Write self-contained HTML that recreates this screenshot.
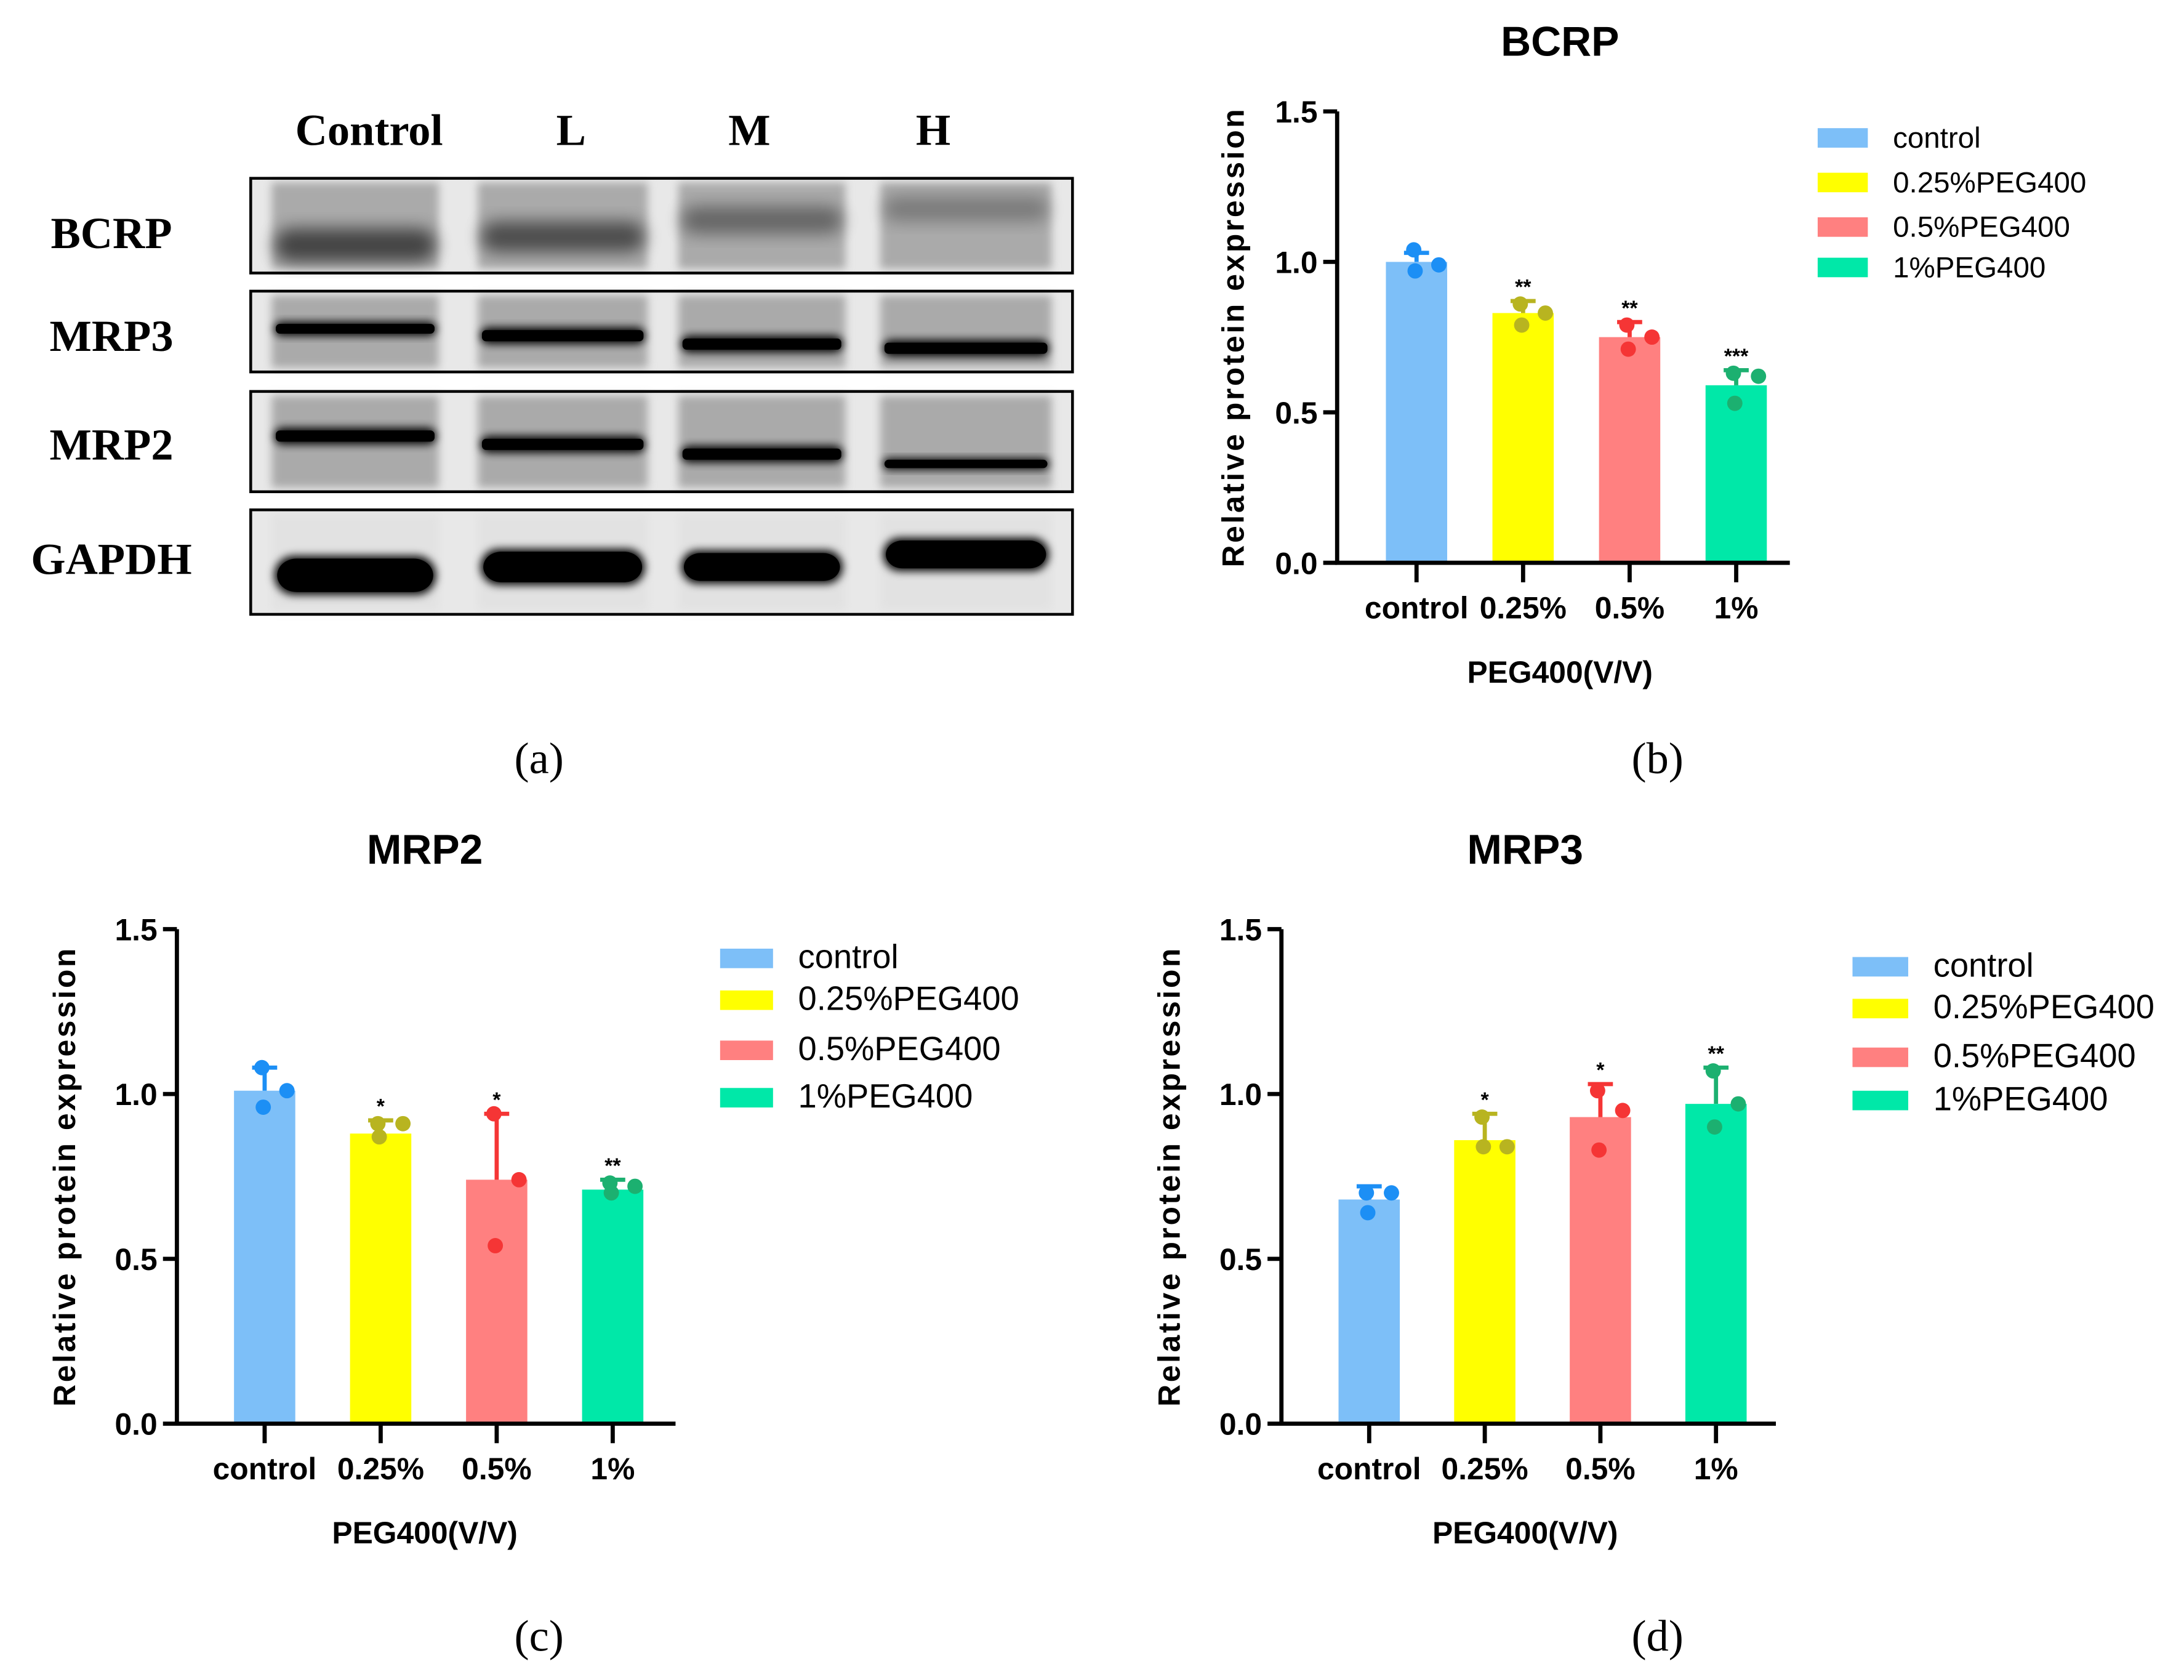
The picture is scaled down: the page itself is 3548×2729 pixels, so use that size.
<!DOCTYPE html>
<html><head><meta charset="utf-8"><style>
html,body{margin:0;padding:0;background:#fff}
svg{display:block}
.t{font-family:"Liberation Serif",serif;font-weight:bold}
.s{font-family:"Liberation Sans",sans-serif}
</style></head><body>
<svg id="fig" width="3548" height="2729" viewBox="0 0 1568 1206" preserveAspectRatio="none" xmlns="http://www.w3.org/2000/svg">
<defs>
<filter id="bl" x="-20%" y="-50%" width="140%" height="200%"><feGaussianBlur stdDeviation="3"/></filter>
<filter id="bl2" x="-20%" y="-50%" width="140%" height="200%"><feGaussianBlur stdDeviation="6"/></filter>
</defs>
<g id="blot"></g>
<g id="charts"></g>
<text class="t" x="387" y="555" font-size="32" style="font-weight:normal" text-anchor="middle">(a)</text>
<text class="t" x="1190" y="555" font-size="32" style="font-weight:normal" text-anchor="middle">(b)</text>
<text class="t" x="387" y="1185" font-size="32" style="font-weight:normal" text-anchor="middle">(c)</text>
<text class="t" x="1190" y="1185" font-size="32" style="font-weight:normal" text-anchor="middle">(d)</text>
</svg>
<script>
const categories = ["control","0.25%","0.5%","1%"];
const legendLabels = ["control","0.25%PEG400","0.5%PEG400","1%PEG400"];
const yTicks = [0.0,0.5,1.0,1.5];
const yTickLabels = ["0.0","0.5","1.0","1.5"];
const bcrpMeans = [1.00,0.83,0.75,0.59];
const bcrpErrTop = [1.03,0.87,0.80,0.64];
const bcrpPoints = [[1.04,0.99,0.97],[0.86,0.83,0.79],[0.79,0.75,0.71],[0.63,0.62,0.53]];
const bcrpStars = ["","**","**","***"];
const mrp2Means = [1.01,0.88,0.74,0.71];
const mrp2ErrTop = [1.08,0.92,0.94,0.74];
const mrp2Points = [[1.08,1.01,0.96],[0.91,0.91,0.87],[0.94,0.74,0.54],[0.73,0.72,0.70]];
const mrp2Stars = ["","*","*","**"];
const mrp3Means = [0.68,0.86,0.93,0.97];
const mrp3ErrTop = [0.72,0.94,1.03,1.08];
const mrp3Points = [[0.70,0.70,0.64],[0.93,0.84,0.84],[1.01,0.95,0.83],[1.07,0.97,0.90]];
const mrp3Stars = ["","*","*","**"];
const blotRows = ["BCRP","MRP3","MRP2","GAPDH"];
const blotCols = ["Control","L","M","H"];

const NS="http://www.w3.org/2000/svg";
const barFill=["#7dbff8","#ffff00","#ff8080","#00e8a8"];
const ptFill=["#1c8ff5","#b8b420","#f53535","#1cb070"];
function mk(tag,attrs,parent,text){const e=document.createElementNS(NS,tag);for(const k in attrs)e.setAttribute(k,attrs[k]);if(text!==undefined)e.textContent=text;parent.appendChild(e);return e;}

function drawChart(c){
  const g=mk("g",{},document.getElementById("charts"));
  
  
  const y=v=>c.y0-(v/1.5)*(c.y0-c.y15);
  const x=i=>c.xs+i*c.dx;
  const t=mk("text",{x:c.tx,y:c.ty,"font-size":30,"font-weight":"bold","text-anchor":"middle",class:"s"},g,c.title);
  
  
  for(let i=0;i<categories.length;i++){
    const bw=44, cx=x(i);
    const b=mk("rect",{x:cx-bw/2,y:y(c.means[i]),width:bw,height:y(0)-y(c.means[i]),fill:barFill[i]},g);
    
    
    const e=mk("path",{d:`M${cx} ${y(c.means[i])}V${y(c.err[i])}M${cx-9} ${y(c.err[i])}H${cx+9}`,stroke:ptFill[i],"stroke-width":3,fill:"none"},g);
    
    
    c.pts[i].forEach((v,j)=>{
      const p=mk("circle",{cx:cx+(j===0?-2:j===1?16:-1),cy:y(v),r:5.5,fill:ptFill[i]},g);
      
      
    });
    if(c.stars[i]){
      const s=mk("text",{x:cx,y:y(c.err[i])-5,"font-size":15,"font-weight":"bold","text-anchor":"middle",class:"s"},g,c.stars[i]);
      
      
    }
    const tk=mk("path",{d:`M${cx} ${y(0)}V${y(0)+14}`,stroke:"#000","stroke-width":3},g);
    
    
    const tl=mk("text",{x:cx,y:c.y0+40,"font-size":22,"font-weight":"bold","text-anchor":"middle",class:"s"},g,categories[i]);
    
    
  }
  const ax=mk("path",{d:`M${c.ax} ${c.y15}V${c.y0}H${c.axEnd}`,stroke:"#000","stroke-width":3,fill:"none"},g);
  
  
  yTicks.forEach((v,i)=>{
    const tk=mk("path",{d:`M${c.ax-10} ${y(v)}H${c.ax}`,stroke:"#000","stroke-width":3},g);
    
    
    const tl=mk("text",{x:c.ax-14,y:y(v)+8,"font-size":22,"font-weight":"bold","text-anchor":"end",class:"s"},g,yTickLabels[i]);
    
    
  });
  const yl=mk("text",{x:0,y:0,"font-size":22,"font-weight":"bold","text-anchor":"middle",class:"s",transform:`translate(${c.ylx},${(c.y0+c.y15)/2}) rotate(-90)`,"letter-spacing":"1.6"},g,"Relative protein expression");
  
  
  const xl=mk("text",{x:c.tx,y:c.y0+86,"font-size":22,"font-weight":"bold","text-anchor":"middle",class:"s"},g,"PEG400(V/V)");
  
  
  c.leg.forEach((ly,i)=>{
    const le=mk("g",{},g);
    
    
    mk("rect",{x:c.lx,y:ly-7,width:c.lw,height:14,fill:barFill[i]},le);
    mk("text",{x:c.lx+c.lw+18,y:ly+7,"font-size":c.lfs,class:"s"},le,legendLabels[i]);
  });
}
drawChart({name:"bcrp",title:"BCRP",tx:1120,ty:40,means:bcrpMeans,err:bcrpErrTop,pts:bcrpPoints,stars:bcrpStars,
  ax:960,axEnd:1285,y0:404,y15:80,xs:1017,dx:76.5,ylx:893,leg:[99,131,163,192],lx:1305,lw:36,lfs:21});
drawChart({name:"mrp2",title:"MRP2",tx:305,ty:620,means:mrp2Means,err:mrp2ErrTop,pts:mrp2Points,stars:mrp2Stars,
  ax:127,axEnd:485,y0:1022,y15:667,xs:190,dx:83.3,ylx:54,leg:[688,718,754,788],lx:517,lw:38,lfs:24});
drawChart({name:"mrp3",title:"MRP3",tx:1095,ty:620,means:mrp3Means,err:mrp3ErrTop,pts:mrp3Points,stars:mrp3Stars,
  ax:920,axEnd:1275,y0:1022,y15:667,xs:983,dx:83,ylx:847,leg:[694,724,759,790],lx:1330,lw:40,lfs:24});

(function(){
  const g=document.getElementById("blot");
  const boxes=[[128,196],[209,267],[281,353],[366,441]];
  const labelY=[178,252,330,412];
  const laneX=[[195,315],[343,465],[487,607],[632,755]];
  const bands=[
    [[176,12,0.6],[170,11,0.55],[158,10,0.4],[150,9,0.28]],
    [[236,5,1],[241,6,1],[247,6,1],[250,6,1]],
    [[313,6,1],[319,6,1],[326,6,1],[333,4,1]],
    [[413,14,1],[407,13,1],[407,12,1],[398,12,1]]
  ];
  blotCols.forEach((n,i)=>{
    const t=mk("text",{x:[265,410,538,670][i],y:104,"font-size":32,"text-anchor":"middle",class:"t"},g,n);
    
    
  });
  blotRows.forEach((n,r)=>{
    const rg=mk("g",{},g);
    
    
    const [y1,y2]=boxes[r];
    mk("rect",{x:180,y:y1,width:590,height:y2-y1,fill:"#e8e8e8"},rg);
    laneX.forEach((lx,i)=>{
      mk("rect",{x:lx[0],y:y1+3,width:lx[1]-lx[0],height:y2-y1-6,fill:r===3?"#e2e2e2":"#aaaaaa",filter:"url(#bl)"},rg);
      const b=bands[r][i];
      mk("rect",{x:lx[0]+2,y:b[0]-b[1],width:lx[1]-lx[0]-4,height:b[1]*2,rx:b[1],fill:"#000",opacity:b[2],filter:r===0?"url(#bl2)":"url(#bl)"},rg);
      if(r===3) mk("rect",{x:lx[0]+4,y:b[0]-b[1]+2,width:lx[1]-lx[0]-8,height:b[1]*2-4,rx:b[1],fill:"#000"},rg);
      else if(r!==0) mk("rect",{x:lx[0]+3,y:b[0]-b[1]/2-1,width:lx[1]-lx[0]-6,height:b[1]+2,rx:3,fill:"#000"},rg);
    });
    mk("rect",{x:180,y:y1,width:590,height:y2-y1,fill:"none",stroke:"#000","stroke-width":2},rg);
    mk("text",{x:80,y:labelY[r],"font-size":32,"text-anchor":"middle",class:"t"},rg,n);
  });
})();
</script>
</body></html>
